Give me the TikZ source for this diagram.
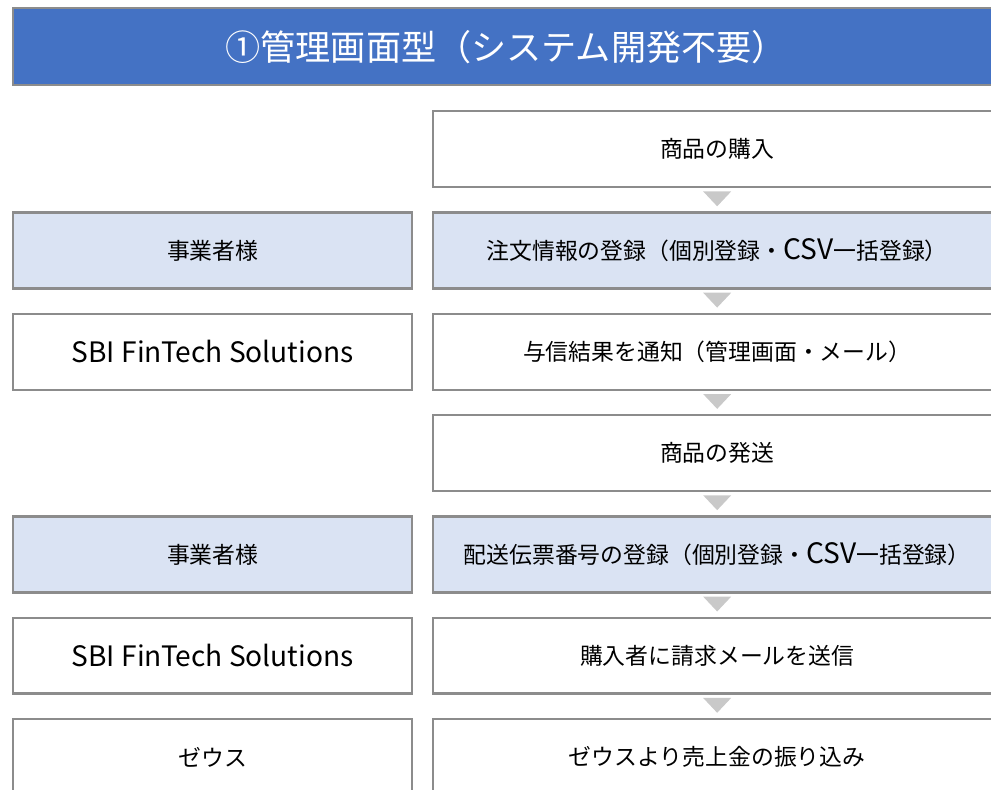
\documentclass[tikz,border=0pt]{standalone}
\usepackage{fontspec}
\setmainfont{Noto Sans CJK JP}
\usetikzlibrary{calc}

\definecolor{hdrblue}{HTML}{4472C4}
\definecolor{boxline}{HTML}{8C8C8C}
\definecolor{boxblue}{HTML}{DAE3F3}
\definecolor{trigray}{HTML}{C9C9C9}

% wider latin runs
\newcommand{\latin}[1]{{\fontsize{16}{18}\selectfont #1}}

\tikzset{
  flowbox/.style={draw=boxline, line width=1.4pt, fill=white, anchor=north west,
    minimum height=1.52cm, inner sep=0pt, font=\fontsize{13}{15}\selectfont},
  actor/.style={flowbox, minimum width=7.98cm},
  stage/.style={flowbox, minimum width=11.36cm},
  tinted/.style={fill=boxblue},
  downtri/.style={fill=trigray}
}

\begin{document}
\begin{tikzpicture}[x=0.02cm, y=-0.02cm]
    \useasboundingbox (0,0) rectangle (991,790);
    \clip (0,0) rectangle (991,790);

    % Header
    \node[draw=boxline, line width=1.4pt, fill=hdrblue, anchor=north west,
      minimum width=19.72cm, minimum height=1.54cm, inner sep=0pt,
      text=white, font=\fontsize{20}{24}\selectfont] (title) at (12,7)
      {①管理画面型（システム開発不要）};

    % Steps
    \node[stage] (buy) at (432,110) {商品の購入};
    \node[stage, tinted] (order) at (432,211.3) {注文情報の登録（個別登録・\latin{CSV}一括登録）};
    \node[stage] (credit) at (432,312.6) {与信結果を通知（管理画面・メール）};
    \node[stage] (ship) at (432,413.9) {商品の発送};
    \node[stage, tinted] (slip) at (432,515.2) {配送伝票番号の登録（個別登録・\latin{CSV}一括登録）};
    \node[stage] (bill) at (432,616.5) {購入者に請求メールを送信};
    \node[stage] (pay) at (432,717.8) {ゼウスより売上金の振り込み};

    % Actors
    \node[actor, tinted] (shopA) at (12,211.3) {事業者様};
    \node[actor] (sbiA) at (12,312.6) {\latin{SBI FinTech Solutions}};
    \node[actor, tinted] (shopB) at (12,515.2) {事業者様};
    \node[actor] (sbiB) at (12,616.5) {\latin{SBI FinTech Solutions}};
    \node[actor] (zeus) at (12,717.8) {ゼウス};

    % Arrows
    \fill[downtri] ($(buy.south)+(-14,3)$) -- ($(buy.south)+(14,3)$) -- ($(order.north)+(0,-5)$) -- cycle;
    \fill[downtri] ($(order.south)+(-14,3)$) -- ($(order.south)+(14,3)$) -- ($(credit.north)+(0,-5)$) -- cycle;
    \fill[downtri] ($(credit.south)+(-14,3)$) -- ($(credit.south)+(14,3)$) -- ($(ship.north)+(0,-5)$) -- cycle;
    \fill[downtri] ($(ship.south)+(-14,3)$) -- ($(ship.south)+(14,3)$) -- ($(slip.north)+(0,-5)$) -- cycle;
    \fill[downtri] ($(slip.south)+(-14,3)$) -- ($(slip.south)+(14,3)$) -- ($(bill.north)+(0,-5)$) -- cycle;
    \fill[downtri] ($(bill.south)+(-14,3)$) -- ($(bill.south)+(14,3)$) -- ($(pay.north)+(0,-5)$) -- cycle;
\end{tikzpicture}
\end{document}
